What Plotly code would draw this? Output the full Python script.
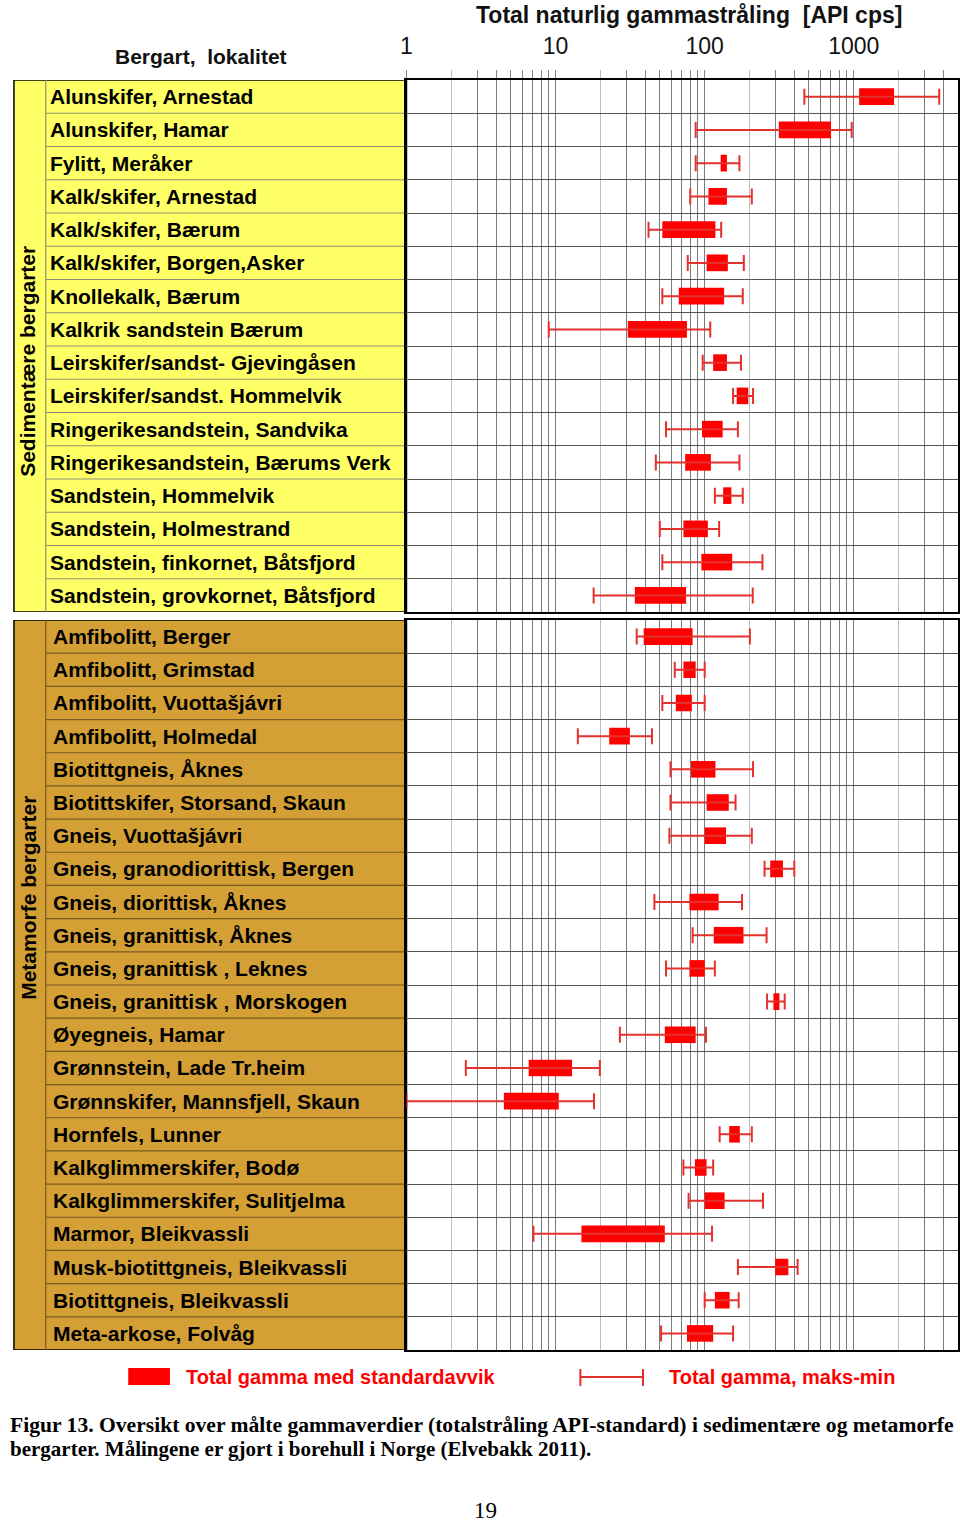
import math
import plotly.graph_objects as go

W, H = 960, 1523
def px(x): return x / W
def py(y): return 1 - y / H

# ---------------- data ----------------
sed_labels = ["Alunskifer, Arnestad", "Alunskifer, Hamar", "Fylitt, Meråker", "Kalk/skifer, Arnestad",
              "Kalk/skifer, Bærum", "Kalk/skifer, Borgen,Asker", "Knollekalk, Bærum", "Kalkrik sandstein Bærum",
              "Leirskifer/sandst- Gjevingåsen", "Leirskifer/sandst. Hommelvik", "Ringerikesandstein, Sandvika",
              "Ringerikesandstein, Bærums Verk", "Sandstein, Hommelvik", "Sandstein, Holmestrand",
              "Sandstein, finkornet, Båtsfjord", "Sandstein, grovkornet, Båtsfjord"]
sed_min = [466, 87, 87, 80, 42, 77, 52, 9.0, 97, 155, 55, 47, 117, 50, 52, 18]
sed_low = [1086, 314, 128, 106, 52, 103, 67, 30.5, 114, 164, 96, 74, 133, 72, 95, 34]
sed_high = [1862, 703, 141, 141, 118, 143, 135, 76, 141, 196, 132, 110, 151, 105, 153, 75]
sed_max = [3740, 968, 171, 207, 129, 183, 180, 109, 175, 211, 167, 171, 180, 125, 244, 210]

met_labels = ["Amfibolitt, Berger", "Amfibolitt, Grimstad", "Amfibolitt, Vuottašjávri", "Amfibolitt, Holmedal",
              "Biotittgneis, Åknes", "Biotittskifer, Storsand, Skaun", "Gneis, Vuottašjávri",
              "Gneis, granodiorittisk, Bergen", "Gneis, diorittisk, Åknes", "Gneis, granittisk, Åknes",
              "Gneis, granittisk , Leknes", "Gneis, granittisk , Morskogen", "Øyegneis, Hamar",
              "Grønnstein, Lade Tr.heim", "Grønnskifer, Mannsfjell, Skaun", "Hornfels, Lunner",
              "Kalkglimmerskifer, Bodø", "Kalkglimmerskifer, Sulitjelma", "Marmor, Bleikvassli",
              "Musk-biotittgneis, Bleikvassli", "Biotittgneis, Bleikvassli", "Meta-arkose, Folvåg"]
met_min = [35, 63, 52, 14.1, 59, 59, 58, 252, 46, 83, 55, 262, 27, 2.5, 1.0, 126, 72, 78, 7.1, 167, 100, 51]
met_low = [39, 72, 64, 22.9, 81, 103, 100, 275, 79, 115, 79, 289, 54, 6.6, 4.5, 146, 86, 100, 14.9, 297, 117, 76]
met_high = [83, 87, 82, 31.5, 118, 145, 139, 335, 124, 182, 100, 317, 87, 12.9, 10.5, 172, 103, 136, 54, 364, 147, 114]
met_max = [201, 100, 100, 44.3, 211, 161, 207, 399, 178, 260, 117, 344, 102, 19.8, 18.1, 207, 114, 246, 112, 420, 169, 155]

major_vals = [1, 3, 4, 5, 6, 7, 8, 9, 10, 30, 40, 50, 60, 70, 80, 90, 100,
              300, 400, 500, 600, 700, 800, 900, 1000, 3000, 4000]
light_vals = [2, 20, 200, 2000]
decade_text = {1: "1", 10: "10", 100: "100", 1000: "1000"}

SANS = "Liberation Sans, Arial, sans-serif"
SERIF = "Liberation Serif, Times New Roman, serif"
BOX_RED = "#FF0000"
WHISK_RED = "#E3312D"
SED_FILL = "#FFFF66"
MET_FILL = "#D4A035"

fig = go.Figure()

def add_section(labels, mn, lo, hi, mx, xa, ya):
    n = len(labels)
    rows = list(range(n))
    fig.add_trace(go.Bar(
        y=rows, x=[h - l for l, h in zip(lo, hi)], base=lo, orientation="h", width=0.5,
        marker=dict(color=BOX_RED, line=dict(width=0)), xaxis=xa, yaxis=ya,
        showlegend=False, hoverinfo="skip"))
    fig.add_trace(go.Scatter(
        y=rows, x=lo, mode="markers", marker=dict(color="rgba(0,0,0,0)", size=1),
        error_x=dict(type="data", symmetric=False,
                     array=[m - l for l, m in zip(lo, mx)],
                     arrayminus=[l - m for l, m in zip(lo, mn)],
                     color=WHISK_RED, thickness=2, width=8),
        xaxis=xa, yaxis=ya, showlegend=False, hoverinfo="skip"))

add_section(sed_labels, sed_min, sed_low, sed_high, sed_max, "x", "y")
add_section(met_labels, met_min, met_low, met_high, met_max, "x2", "y2")

shapes = []
annotations = []

def table(labels, ya, fill, sep_color, text_x, side_text, side_y):
    n = len(labels)
    yref = ya
    shapes.append(dict(type="rect", xref="paper", yref=yref, x0=px(8), x1=px(403), y0=-0.5, y1=n - 0.5,
                       fillcolor=fill, line=dict(color="black", width=1.5), layer="below"))
    shapes.append(dict(type="line", xref="paper", yref=yref, x0=px(40), x1=px(40), y0=-0.5, y1=n - 0.5,
                       line=dict(color=sep_color, width=1.2), layer="below"))
    for i in range(n - 1):
        shapes.append(dict(type="line", xref="paper", yref=yref, x0=px(40), x1=px(403), y0=i + 0.5, y1=i + 0.5,
                           line=dict(color=sep_color, width=1.2), layer="below"))
    for i, lab in enumerate(labels):
        annotations.append(dict(xref="paper", yref=yref, x=px(text_x), y=i, text=lab, showarrow=False,
                                xanchor="left", yanchor="middle",
                                font=dict(family=SANS, size=21, color="black", weight="bold")))
    annotations.append(dict(xref="paper", yref="paper", x=px(22), y=py(side_y), text=side_text,
                            showarrow=False, textangle=-90, xanchor="center", yanchor="middle",
                            font=dict(family=SANS, size=21, color="black", weight="bold")))

table(sed_labels, "y", SED_FILL, "#8f8f70", 42, "Sedimentære bergarter", 361)
table(met_labels, "y2", MET_FILL, "#7a5a20", 45, "Metamorfe bergarter", 898)

# headers
annotations.append(dict(xref="paper", yref="paper", x=px(687), y=py(15), text="Total naturlig gammastråling\u00a0 [API cps]",
                        showarrow=False, xanchor="center", yanchor="middle",
                        font=dict(family=SANS, size=23, color="#111", weight="bold")))
annotations.append(dict(xref="paper", yref="paper", x=px(196), y=py(56), text="Bergart,\u00a0 lokalitet",
                        showarrow=False, xanchor="center", yanchor="middle",
                        font=dict(family=SANS, size=21, color="#111", weight="bold")))

# legend
shapes.append(dict(type="rect", xref="paper", yref="paper", x0=px(123), x1=px(165), y0=py(1385), y1=py(1368),
                   fillcolor=BOX_RED, line=dict(width=0)))
shapes.append(dict(type="line", xref="paper", yref="paper", x0=px(578), x1=px(641), y0=py(1377), y1=py(1377),
                   line=dict(color=WHISK_RED, width=2)))
for xx in (578, 641):
    shapes.append(dict(type="line", xref="paper", yref="paper", x0=px(xx), x1=px(xx), y0=py(1369), y1=py(1386),
                       line=dict(color=WHISK_RED, width=2)))
annotations.append(dict(xref="paper", yref="paper", x=px(179), y=py(1377), text="Total gamma med standardavvik",
                        showarrow=False, xanchor="left", yanchor="middle",
                        font=dict(family=SANS, size=20, color=BOX_RED, weight="bold")))
annotations.append(dict(xref="paper", yref="paper", x=px(665), y=py(1377), text="Total gamma, maks-min",
                        showarrow=False, xanchor="left", yanchor="middle",
                        font=dict(family=SANS, size=20, color=BOX_RED, weight="bold")))

# caption
annotations.append(dict(xref="paper", yref="paper", x=px(2), y=py(1425),
                        text="Figur 13. Oversikt over målte gammaverdier (totalstråling API-standard) i sedimentære og metamorfe",
                        showarrow=False, xanchor="left", yanchor="middle",
                        font=dict(family=SERIF, size=21.6, color="black", weight="bold")))
annotations.append(dict(xref="paper", yref="paper", x=px(2), y=py(1449),
                        text="bergarter. Målingene er gjort i borehull i Norge (Elvebakk 2011).",
                        showarrow=False, xanchor="left", yanchor="middle",
                        font=dict(family=SERIF, size=21, color="black", weight="bold")))
annotations.append(dict(xref="paper", yref="paper", x=px(483), y=py(1510), text="19",
                        showarrow=False, xanchor="center", yanchor="middle",
                        font=dict(family=SERIF, size=23, color="black")))

common_x = dict(type="log", range=[0, math.log10(5000)], domain=[px(403), px(958)],
                tickmode="array", tickvals=major_vals,
                showgrid=True, gridcolor="#7a7a7a", gridwidth=1, zeroline=False,
                showline=True, mirror=True, linecolor="black", linewidth=1.5, fixedrange=True,
                minor=dict(tickvals=light_vals, showgrid=True, gridcolor="#bdbdbd", gridwidth=1))

xaxis = dict(common_x, anchor="y", side="top",
             ticktext=[decade_text.get(v, "") for v in major_vals],
             ticks="outside", ticklen=8, tickcolor="#888", ticklabelstandoff=7,
             tickfont=dict(family=SANS, size=23, color="#111"))
xaxis["minor"] = dict(tickvals=light_vals, showgrid=True, gridcolor="#bdbdbd", gridwidth=1,
                      ticks="outside", ticklen=8, tickcolor="#bbb")
xaxis2 = dict(common_x, anchor="y2", matches="x", showticklabels=False, ticks="")

def yax(n, top, bot):
    return dict(domain=[py(bot), py(top)], range=[n - 0.5, -0.5], tickmode="array",
                tickvals=[i + 0.5 for i in range(n - 1)], showticklabels=False, ticks="",
                showgrid=True, gridcolor="#555", gridwidth=1, zeroline=False,
                showline=True, mirror=True, linecolor="black", linewidth=1.5, fixedrange=True)

fig.update_layout(
    width=W, height=H, margin=dict(l=0, r=0, t=0, b=0),
    paper_bgcolor="white", plot_bgcolor="white",
    xaxis=xaxis, xaxis2=xaxis2,
    yaxis=yax(len(sed_labels), 80, 612),
    yaxis2=yax(len(met_labels), 620, 1350),
    barmode="overlay", shapes=shapes, annotations=annotations, showlegend=False,
)

fig.write_html("out.html", config={"displayModeBar": False},
               post_script="document.body.style.margin='0';document.body.style.overflow='hidden';")
